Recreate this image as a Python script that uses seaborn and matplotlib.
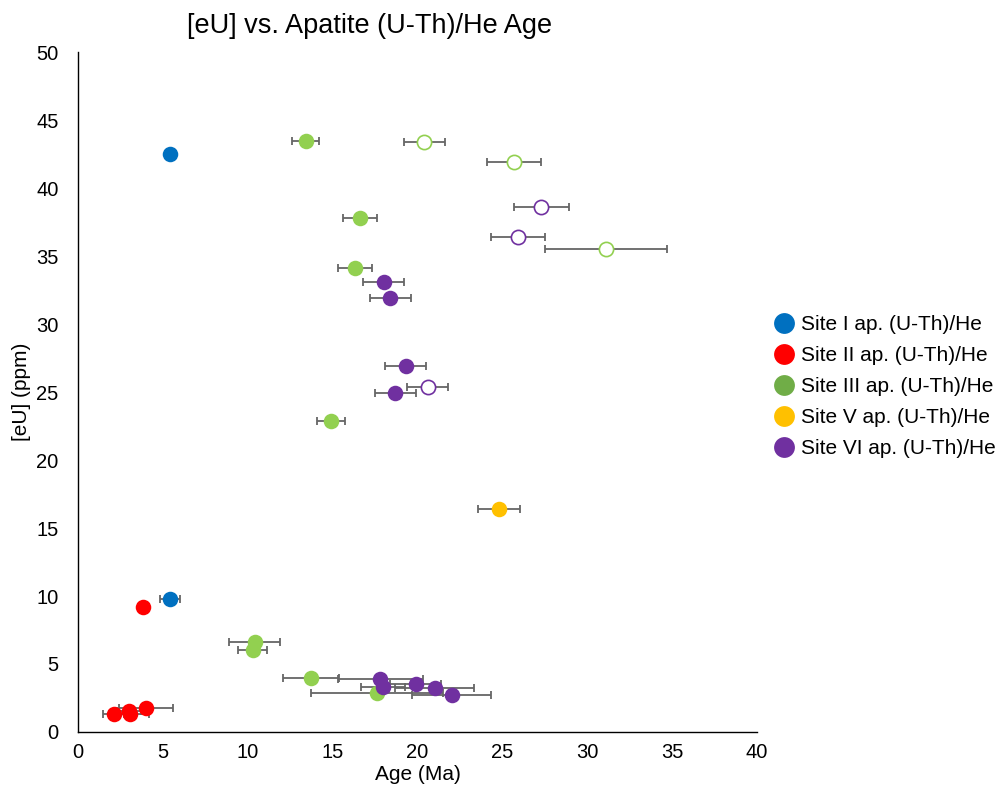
import matplotlib
matplotlib.use("Agg")
import matplotlib.pyplot as plt
from matplotlib.lines import Line2D
import seaborn as sns
import pandas as pd

sns.set_theme(style="white")
plt.rcParams['font.family'] = ['Liberation Sans', 'DejaVu Sans']
plt.rcParams['text.color'] = 'black'
plt.rcParams['axes.labelcolor'] = 'black'

# ---- data (Age Ma, eU ppm, age error Ma, open marker flag) ----
site1_age = [5.4, 5.4]
site1_eu = [42.5, 9.8]
site1_err = [0.0, 0.6]
site1_open = [False, False]

site2_age = [3.8, 2.1, 3.0, 3.05, 4.0]
site2_eu = [9.2, 1.3, 1.55, 1.3, 1.75]
site2_err = [0.0, 0.6, 0.7, 1.15, 1.6]
site2_open = [False] * 5

site3_age = [13.4, 16.6, 16.3, 14.9, 10.4, 10.3, 13.7, 17.6, 20.4, 25.7, 31.1]
site3_eu = [43.5, 37.8, 34.1, 22.9, 6.6, 6.0, 4.0, 2.9, 43.4, 41.9, 35.5]
site3_err = [0.8, 1.0, 1.0, 0.85, 1.5, 0.85, 1.65, 3.9, 1.2, 1.6, 3.6]
site3_open = [False] * 8 + [True] * 3

site5_age = [24.8]
site5_eu = [16.4]
site5_err = [1.25]
site5_open = [False]

site6_age = [18.0, 18.4, 19.3, 18.7, 17.8, 17.95, 19.9, 21.0, 22.0, 27.3, 25.9, 20.6]
site6_eu = [33.1, 31.9, 26.9, 24.9, 3.9, 3.3, 3.55, 3.2, 2.7, 38.6, 36.4, 25.4]
site6_err = [1.2, 1.2, 1.2, 1.2, 2.5, 1.3, 1.5, 2.3, 2.35, 1.6, 1.6, 1.2]
site6_open = [False] * 9 + [True] * 3

labels = ["Site I ap. (U-Th)/He", "Site II ap. (U-Th)/He", "Site III ap. (U-Th)/He",
          "Site V ap. (U-Th)/He", "Site VI ap. (U-Th)/He"]
point_colors = ["#0070C0", "#FF0000", "#92D050", "#FFC000", "#7030A0"]
legend_colors = ["#0070C0", "#FF0000", "#70AD47", "#FFC000", "#7030A0"]

series = [
    (site1_age, site1_eu, site1_err, site1_open),
    (site2_age, site2_eu, site2_err, site2_open),
    (site3_age, site3_eu, site3_err, site3_open),
    (site5_age, site5_eu, site5_err, site5_open),
    (site6_age, site6_eu, site6_err, site6_open),
]

frames = []
for lab, (a, e, er, op) in zip(labels, series):
    frames.append(pd.DataFrame({"site": lab, "age": a, "eu": e, "err": er, "open": op}))
df = pd.concat(frames, ignore_index=True)

fig = plt.figure(figsize=(10.03, 8.02), dpi=100)
ax = fig.add_axes([0.0778, 0.0873, 0.677, 0.8477])

# error bars
eb = df[df["err"] > 0]
ax.errorbar(eb["age"], eb["eu"], xerr=eb["err"], fmt="none", ecolor="#666666",
            elinewidth=1.3, capsize=3.0, capthick=1.3, zorder=1)

palette = dict(zip(labels, point_colors))
for lab in labels:
    sub = df[df["site"] == lab]
    filled = sub[~sub["open"]]
    hollow = sub[sub["open"]]
    if len(filled):
        sns.scatterplot(data=filled, x="age", y="eu", ax=ax, color=palette[lab],
                        s=125, linewidth=0, legend=False, zorder=3)
    if len(hollow):
        sns.scatterplot(data=hollow, x="age", y="eu", ax=ax, facecolor="white",
                        edgecolor=palette[lab], s=105, linewidth=1.2, legend=False, zorder=3)

ax.set_xlim(0, 40)
ax.set_ylim(0, 50)
ax.set_xticks(range(0, 41, 5))
ax.set_yticks(range(0, 51, 5))
ax.tick_params(axis="both", labelsize=14.5, length=0, colors="black")
ax.tick_params(axis="y", pad=14)
ax.tick_params(axis="x", pad=8)
for s in ["top", "right"]:
    ax.spines[s].set_visible(False)
for s in ["left", "bottom"]:
    ax.spines[s].set_color("black")
    ax.spines[s].set_linewidth(1.0)

ax.set_xlabel("Age (Ma)", fontsize=15, labelpad=2, color="black")
ax.set_ylabel("[eU] (ppm)", fontsize=15, labelpad=4, color="black")
ax.set_title("[eU] vs. Apatite (U-Th)/He Age", fontsize=19.5, pad=14, x=0.43, color="black")

handles = [Line2D([0], [0], marker="o", linestyle="none", markersize=15,
                  markerfacecolor=c, markeredgewidth=0) for c in legend_colors]
fig.legend(handles, labels, loc="center left", bbox_to_anchor=(0.761, 0.518),
           frameon=False, fontsize=15, handletextpad=0.2, labelspacing=0.58,
           borderaxespad=0, handlelength=1.2)

fig.savefig("out.png", dpi=100)
